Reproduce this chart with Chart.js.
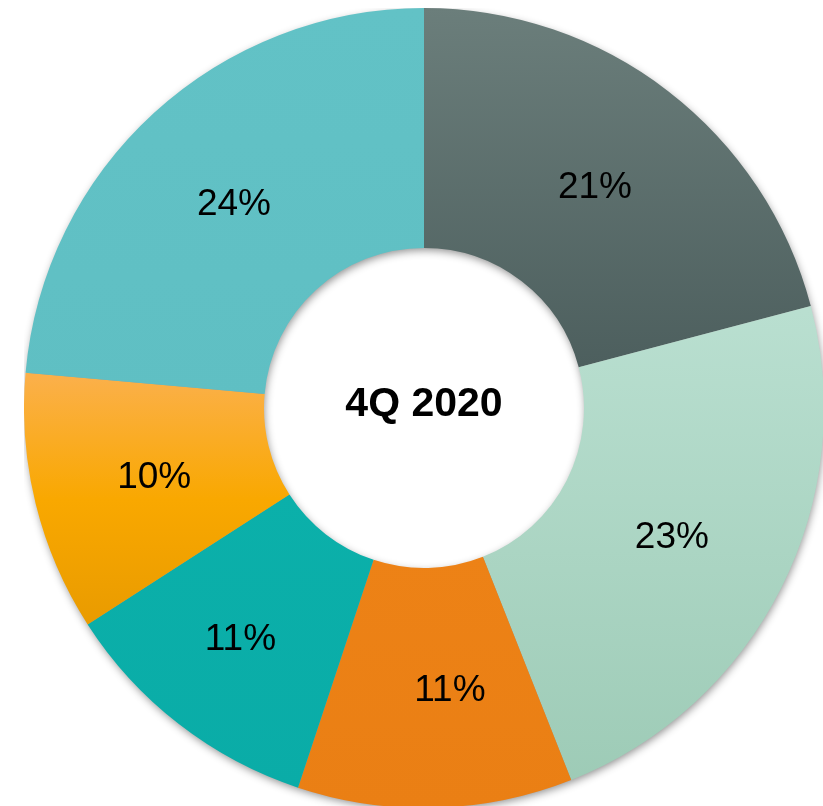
<!DOCTYPE html>
<html>
<head>
<meta charset="utf-8">
<script src="https://cdn.jsdelivr.net/npm/chart.js@4/dist/chart.umd.min.js"></script>
<style>
html, body { margin: 0; padding: 0; background: #fff; overflow: hidden; width: 823px; height: 806px; }
#wrap { position: absolute; left: 24px; top: 8px; width: 800px; height: 800px; }
</style>
</head>
<body>
<div id="wrap"><canvas id="myChart" width="800" height="800"></canvas></div>
<script>
const labels = ['A', 'B', 'C', 'D', 'E', 'F'];
const shares = [20.9, 23.1, 11.1, 10.8, 10.5, 23.6];
const shareLabels = ['21%', '23%', '11%', '11%', '10%', '24%'];
const centerTitle = '4Q 2020';

// small hand nudges for the printed labels (px)
const labelNudge = [[0, 0], [-2, 1], [18, 1], [-12, 9], [2, 1], [-1, 1]];

// each slice: top colour, bottom colour, and where along the height the gradient runs (0..1)
const sliceFills = [
    ['#6b7e7b', '#4c5e5d', 0.0, 0.46],
    ['#b9dfd0', '#9ccab5', 0.38, 1.0],
    ['#ed8216', '#ea7f14', 0.68, 1.0],
    ['#0bb0aa', '#0aaca7', 0.6, 0.98],
    ['#fbb04a', '#e99b00', 0.46, 0.77],
    ['#62c2c6', '#5fbfc3', 0.0, 0.5]
];

function sliceColor(ctx) {
    const chart = ctx.chart;
    const area = chart.chartArea;
    if (!area) return sliceFills[ctx.dataIndex][0];
    const f = sliceFills[ctx.dataIndex];
    const h = area.bottom - area.top;
    const g = chart.ctx.createLinearGradient(0, area.top + f[2] * h, 0, area.top + f[3] * h);
    g.addColorStop(0, f[0]);
    if (ctx.dataIndex === 4) g.addColorStop(0.5, '#f9a800');
    g.addColorStop(1, f[1]);
    return g;
}

// soft drop shadow under the whole ring
const ringShadow = {
    id: 'ringShadow',
    beforeDatasetsDraw(chart) {
        const a = chart.getDatasetMeta(0).data[0];
        if (!a) return;
        const c = chart.ctx;
        c.save();
        c.shadowColor = 'rgba(0,0,0,0.45)';
        c.shadowBlur = 9;
        c.shadowOffsetX = 1;
        c.shadowOffsetY = 3;
        c.fillStyle = '#9a9a9a';
        c.beginPath();
        c.arc(a.x, a.y, a.outerRadius - 1, 0, Math.PI * 2);
        c.arc(a.x, a.y, a.innerRadius + 1, 0, Math.PI * 2, true);
        c.fill();
        c.restore();
    }
};

const labelPlugin = {
    id: 'sliceLabels',
    afterDatasetsDraw(chart) {
        const c = chart.ctx;
        const meta = chart.getDatasetMeta(0);
        c.save();
        c.fillStyle = '#000';
        c.textAlign = 'center';
        c.textBaseline = 'middle';
        c.font = '37px "Liberation Sans", Arial, sans-serif';
        meta.data.forEach((arc, i) => {
            const p = arc.tooltipPosition();
            c.fillText(shareLabels[i], p.x + labelNudge[i][0], p.y + 2 + labelNudge[i][1]);
        });
        const a = meta.data[0];
        c.font = 'bold 41px "Liberation Sans", Arial, sans-serif';
        c.fillText(centerTitle, a.x, a.y - 3);
        c.restore();
    }
};

new Chart(document.getElementById('myChart'), {
    type: 'doughnut',
    data: {
        labels: labels,
        datasets: [{
            data: shares,
            backgroundColor: sliceColor,
            borderWidth: 0,
            hoverOffset: 0
        }]
    },
    options: {
        responsive: false,
        animation: false,
        cutout: '40%',
        layout: { padding: 0 },
        plugins: {
            legend: { display: false },
            tooltip: { enabled: false }
        }
    },
    plugins: [ringShadow, labelPlugin]
});
</script>
</body>
</html>
